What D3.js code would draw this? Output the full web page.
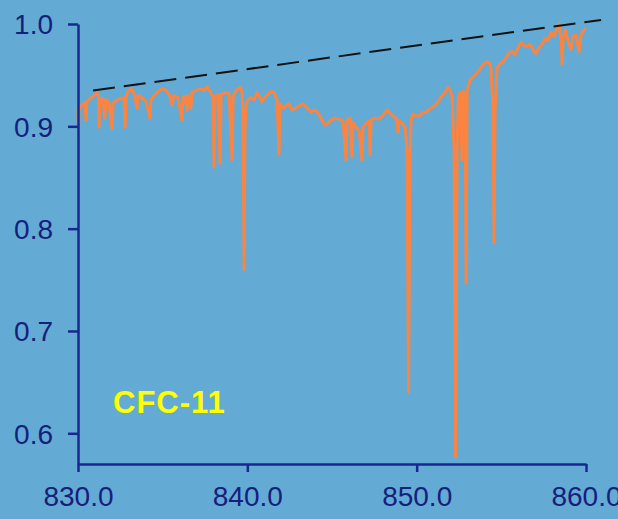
<!DOCTYPE html>
<html>
<head>
<meta charset="utf-8">
<script src="https://cdn.jsdelivr.net/npm/d3@7"></script>
<style>
  body { margin: 0; background: #63abd5; }
  #chart-area { width: 618px; height: 519px; overflow: hidden; }
  .axis path, .axis line { stroke: #1a2790; stroke-width: 2.5; }
  .axis text { fill: #16207a; font-family: "Liberation Sans", Arial, sans-serif; font-size: 28px; }
</style>
</head>
<body>
<div id="chart-area"></div>
<script>

// Data
let wavenumber = [
  830.00, 830.03, 830.06, 830.24, 830.41, 830.47, 830.53, 830.71, 830.95, 831.12,
  831.21, 831.24, 831.30, 831.48, 831.59, 831.65, 831.83, 832.01, 832.07, 832.24,
  832.48, 832.72, 832.78, 832.84, 832.95, 833.13, 833.31, 833.49, 833.54, 833.78,
  834.02, 834.25, 834.31, 834.55, 834.78, 835.02, 835.26, 835.43, 835.55, 835.67,
  835.91, 836.14, 836.20, 836.32, 836.44, 836.50, 836.67, 836.73, 836.97, 837.21,
  837.44, 837.62, 837.80, 837.97, 838.03, 838.09, 838.27, 838.39, 838.45, 838.68,
  838.92, 839.10, 839.16, 839.33, 839.57, 839.69, 839.75, 839.81, 839.86, 839.92,
  840.04, 840.22, 840.40, 840.57, 840.75, 840.87, 841.05, 841.22, 841.40, 841.58,
  841.75, 841.87, 841.93, 842.11, 842.29, 842.46, 842.64, 842.88, 843.11, 843.29,
  843.53, 843.76, 844.00, 844.18, 844.35, 844.59, 844.77, 844.94, 845.18, 845.42,
  845.65, 845.83, 845.89, 846.07, 846.18, 846.24, 846.42, 846.60, 846.77, 846.83,
  847.01, 847.19, 847.25, 847.31, 847.54, 847.78, 848.02, 848.25, 848.43, 848.61,
  848.78, 848.90, 848.96, 849.14, 849.32, 849.43, 849.52, 849.61, 849.67, 849.79,
  849.96, 850.14, 850.32, 850.56, 850.79, 851.03, 851.21, 851.38, 851.56, 851.74,
  851.86, 851.97, 852.09, 852.21, 852.30, 852.39, 852.45, 852.56, 852.68, 852.74,
  852.86, 852.92, 852.98, 853.15, 853.33, 853.51, 853.69, 853.86, 854.04, 854.16,
  854.28, 854.39, 854.51, 854.57, 854.63, 854.75, 854.93, 855.10, 855.28, 855.46,
  855.64, 855.81, 855.99, 856.17, 856.34, 856.52, 856.70, 856.88, 857.05, 857.23,
  857.41, 857.58, 857.76, 857.94, 858.12, 858.29, 858.41, 858.53, 858.59, 858.65,
  858.77, 858.94, 859.12, 859.24, 859.42, 859.59, 859.71, 859.89, 859.98
];

let transmission = [
  0.916, 0.896, 0.917, 0.921, 0.923, 0.906, 0.924, 0.927, 0.930, 0.933,
  0.930, 0.899, 0.927, 0.926, 0.908, 0.926, 0.923, 0.898, 0.922, 0.925,
  0.927, 0.928, 0.899, 0.929, 0.934, 0.937, 0.932, 0.918, 0.930, 0.928,
  0.924, 0.908, 0.926, 0.931, 0.935, 0.937, 0.934, 0.930, 0.921, 0.930,
  0.928, 0.906, 0.928, 0.929, 0.916, 0.930, 0.918, 0.933, 0.935, 0.937,
  0.935, 0.939, 0.934, 0.929, 0.860, 0.929, 0.931, 0.864, 0.931, 0.933,
  0.932, 0.867, 0.929, 0.935, 0.938, 0.934, 0.901, 0.760, 0.896, 0.921,
  0.926, 0.928, 0.926, 0.933, 0.928, 0.924, 0.929, 0.931, 0.934, 0.933,
  0.926, 0.873, 0.922, 0.918, 0.920, 0.922, 0.916, 0.918, 0.920, 0.922,
  0.918, 0.914, 0.916, 0.913, 0.908, 0.901, 0.903, 0.906, 0.908, 0.907,
  0.905, 0.867, 0.906, 0.908, 0.870, 0.904, 0.899, 0.896, 0.867, 0.899,
  0.903, 0.905, 0.872, 0.906, 0.908, 0.907, 0.911, 0.916, 0.913, 0.910,
  0.908, 0.894, 0.906, 0.903, 0.899, 0.877, 0.640, 0.877, 0.906, 0.912,
  0.910, 0.910, 0.913, 0.914, 0.917, 0.920, 0.923, 0.927, 0.931, 0.935,
  0.938, 0.935, 0.929, 0.877, 0.577, 0.877, 0.926, 0.933, 0.867, 0.934,
  0.931, 0.747, 0.935, 0.945, 0.948, 0.951, 0.955, 0.959, 0.962, 0.963,
  0.962, 0.957, 0.916, 0.786, 0.916, 0.957, 0.961, 0.963, 0.967, 0.972,
  0.973, 0.970, 0.977, 0.982, 0.979, 0.978, 0.980, 0.975, 0.971, 0.977,
  0.980, 0.986, 0.984, 0.992, 0.988, 0.996, 1.000, 0.984, 0.961, 0.986,
  0.994, 0.984, 0.975, 0.988, 0.989, 0.973, 0.990, 0.994, 0.996
];

// dashed baseline (start / end)
let baseX = [830.89, 860.89];
let baseY = [0.935, 1.004];

let xTicks = [830, 840, 850, 860];
let yTicks = [0.6, 0.7, 0.8, 0.9, 1.0];
let label = "CFC-11";

// SVG drawing area
let margin = {top: 24, right: 32, bottom: 55, left: 78};

let width = 618 - margin.left - margin.right,
    height = 519 - margin.top - margin.bottom;

let svg = d3.select("#chart-area").append("svg")
    .attr("width", 618)
    .attr("height", 519)
  .append("g")
    .attr("transform", "translate(" + margin.left + "," + margin.top + ")");

// Scales
let x = d3.scaleLinear()
    .domain([830, 860])
    .range([0, width]);

let y = d3.scaleLinear()
    .domain([0.57, 1.0])
    .range([height, 0]);

// Axes
let xAxis = d3.axisBottom(x)
    .tickValues(xTicks)
    .tickSizeInner(8)
    .tickSizeOuter(0)
    .tickPadding(14)
    .tickFormat(d3.format(".1f"));

let yAxis = d3.axisLeft(y)
    .tickValues(yTicks)
    .tickSizeInner(10)
    .tickSizeOuter(0)
    .tickPadding(15)
    .tickFormat(d3.format(".1f"));

// spectrum
let spectrum = wavenumber.map((w, i) => ({w: w, t: transmission[i]}));

let line = d3.line()
    .x(d => x(d.w))
    .y(d => y(d.t));

svg.append("path")
    .datum(spectrum)
    .attr("fill", "none")
    .attr("stroke", "#fb8540")
    .attr("stroke-width", 3)
    .attr("stroke-linejoin", "round")
    .attr("d", line);

// dashed line
svg.append("line")
    .attr("x1", x(baseX[0]))
    .attr("y1", y(baseY[0]))
    .attr("x2", x(baseX[1]))
    .attr("y2", y(baseY[1]))
    .attr("stroke", "#111")
    .attr("stroke-width", 2)
    .attr("stroke-dasharray", "22,9");

let xg = svg.append("g")
    .attr("class", "axis x-axis")
    .attr("transform", "translate(0," + height + ")")
    .call(xAxis);

let yg = svg.append("g")
    .attr("class", "axis y-axis")
    .call(yAxis);

yg.selectAll("text").attr("dy", "0.35em");
xg.selectAll("text").attr("dy", "0.71em");

svg.append("text")
    .attr("x", x(832.07))
    .attr("y", y(0.6))
    .attr("dy", "-0.65em")
    .attr("fill", "#ffff00")
    .style("font-family", "'Liberation Sans', Arial, sans-serif")
    .style("font-weight", "bold")
    .style("font-size", "31px")
    .style("letter-spacing", "1px")
    .text(label);

</script>
</body>
</html>
